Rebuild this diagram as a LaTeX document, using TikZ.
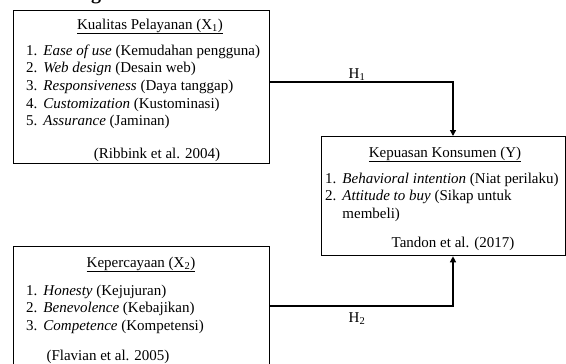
\documentclass[tikz,border=0pt]{standalone}
\usepackage{fontspec}
\setmainfont{Liberation Serif}
\usetikzlibrary{arrows.meta,positioning}

\begin{document}
\begin{tikzpicture}[x=1pt, y=-1pt, font=\fontsize{15}{17.7}\selectfont,
    varbox/.style={draw, line width=1.3pt, inner sep=0, anchor=north west},
    boxtitle/.style={inner sep=0, anchor=base},
    itemlist/.style={inner sep=0, anchor=base west},
    hyp/.style={inner sep=0},
    link/.style={line width=1.3pt, -{Triangle[length=6pt, width=6pt]}}]
      \useasboundingbox (0,0) rectangle (566,364);
      % Cut-off heading above the picture
      \node[inner sep=0, anchor=base, font=\bfseries\fontsize{20}{24}\selectfont] (heading) at (96,-0.5) {g};
      % Boxes
      \node[varbox, minimum width=256, minimum height=153] (kualitas) at (13,10) {};
      \node[varbox, minimum width=256, minimum height=134] (kepercayaan) at (13,246) {};
      \node[varbox, minimum width=244, minimum height=119] (kepuasan) at (321,136) {};
      % Kualitas Pelayanan (X1)
      \node[boxtitle] (kualitasT) at (150,29) {\underline{Kualitas Pelayanan (X\textsubscript{1})}};
      \node[itemlist] (kualitasL) at (26,55) {\begin{tabular}[t]{@{}l@{\hspace{6pt}}l@{}}
        1. & \textit{Ease of use} (Kemudahan pengguna)\\
        2. & \textit{Web design} (Desain web)\\
        3. & \textit{Responsiveness} (Daya tanggap)\\
        4. & \textit{Customization} (Kustominasi)\\
        5. & \textit{Assurance} (Jaminan)
      \end{tabular}};
      \node[boxtitle] (kualitasR) at (157,158) {(Ribbink et al. 2004)};
      % Kepercayaan (X2)
      \node[boxtitle] (kepercayaanT) at (141,267) {\underline{Kepercayaan (X\textsubscript{2})}};
      \node[itemlist] (kepercayaanL) at (26,295) {\begin{tabular}[t]{@{}l@{\hspace{6pt}}l@{}}
        1. & \textit{Honesty} (Kejujuran)\\
        2. & \textit{Benevolence} (Kebajikan)\\
        3. & \textit{Competence} (Kompetensi)
      \end{tabular}};
      \node[boxtitle] (kepercayaanR) at (108,360) {(Flavian et al. 2005)};
      % Kepuasan Konsumen (Y)
      \node[boxtitle] (kepuasanT) at (445,157) {\underline{Kepuasan Konsumen (Y)}};
      \node[itemlist] (kepuasanL) at (325,183) {\begin{tabular}[t]{@{}l@{\hspace{6pt}}l@{}}
        1. & \textit{Behavioral intention} (Niat perilaku)\\
        2. & \textit{Attitude to buy} (Sikap untuk\\
           & membeli)
      \end{tabular}};
      \node[boxtitle] (kepuasanR) at (453,247) {Tandon et al. (2017)};
      % Hypotheses
      \coordinate (h1) at (453,82);
      \coordinate (h2) at (453,306);
      \draw[link] (kualitas.east |- h1) -| (kepuasan.north -| h1);
      \draw[link] (kepercayaan.east |- h2) -| (kepuasan.south -| h2);
      \node[hyp] (h1label) at (357,75) {H\textsubscript{1}};
      \node[hyp] (h2label) at (357,319) {H\textsubscript{2}};
\end{tikzpicture}
\end{document}
